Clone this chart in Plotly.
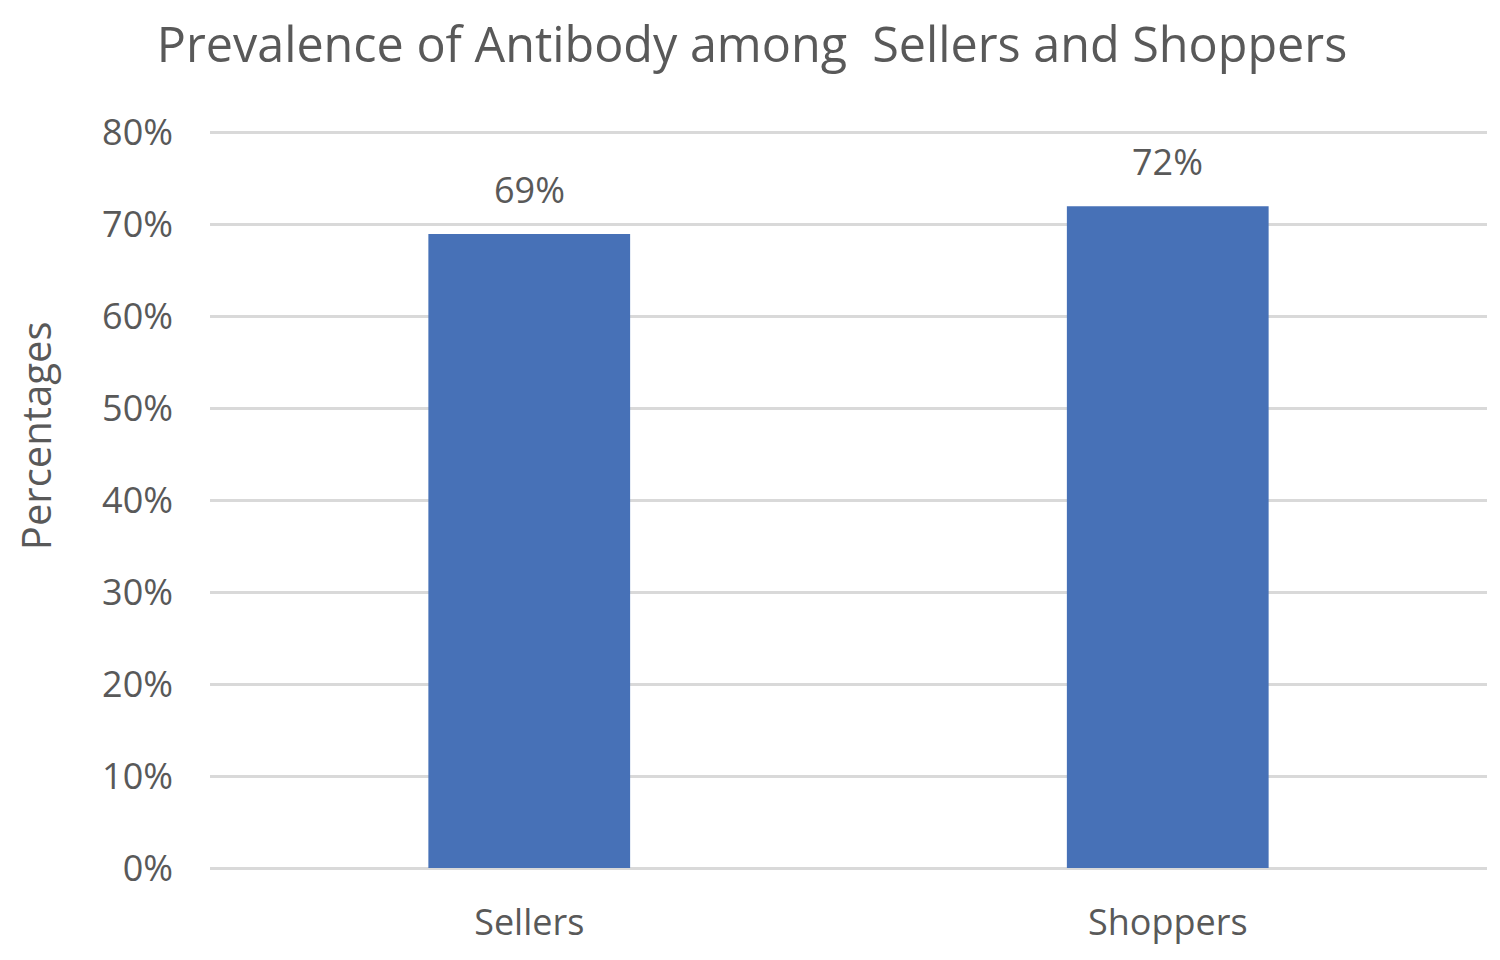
import plotly.graph_objects as go

# data
groups = ["Sellers", "Shoppers"]
prevalence = [0.69, 0.72]
labels = ["69%", "72%"]

bar_color = "#4771B7"
text_color = "#595959"
font_family = "Open Sans, Noto Sans, sans-serif"

trace = go.Bar(
    x=groups,
    y=prevalence,
    marker=dict(color=bar_color, line=dict(width=0)),
    hoverinfo="skip",
)

fig = go.Figure(data=[trace])

# value labels above the bars
for g, v, t in zip(groups, prevalence, labels):
    fig.add_annotation(
        x=g, y=v, text=t, showarrow=False,
        yanchor="bottom", yshift=18,
        font=dict(size=36, color=text_color, family=font_family),
    )

# y axis title sits above the middle in the original, so place it by hand
fig.add_annotation(
    text="Percentages", textangle=-90, showarrow=False,
    xref="paper", yref="paper", x=-0.137, y=0.586,
    xanchor="center", yanchor="middle",
    font=dict(size=40, color=text_color, family=font_family),
)

fig.update_layout(
    width=1500,
    height=960,
    paper_bgcolor="white",
    plot_bgcolor="white",
    margin=dict(l=202, r=21, t=123, b=100),
    bargap=0.684,
    showlegend=False,
    title=dict(
        text="Prevalence of Antibody among  Sellers and Shoppers",
        x=0.496, xanchor="center",
        y=0.9615, yanchor="middle",
        font=dict(size=48.5, color=text_color, family=font_family),
    ),
    font=dict(family=font_family, color=text_color),
)

fig.update_yaxes(
    range=[0, 0.802],
    tickvals=[0, 0.1, 0.2, 0.3, 0.4, 0.5, 0.6, 0.7, 0.8],
    tickformat=".0%",
    showgrid=True,
    gridcolor="#D9D9D9",
    gridwidth=3,
    zeroline=True,
    zerolinecolor="#D9D9D9",
    zerolinewidth=3,
    showline=False,
    ticks="",
    ticklabelstandoff=36,
    tickfont=dict(size=36, color=text_color),
)

fig.update_xaxes(
    showgrid=False,
    showline=False,
    ticks="",
    tickfont=dict(size=36, color=text_color),
    ticklabelstandoff=30,
)

fig.write_html("out.html")
